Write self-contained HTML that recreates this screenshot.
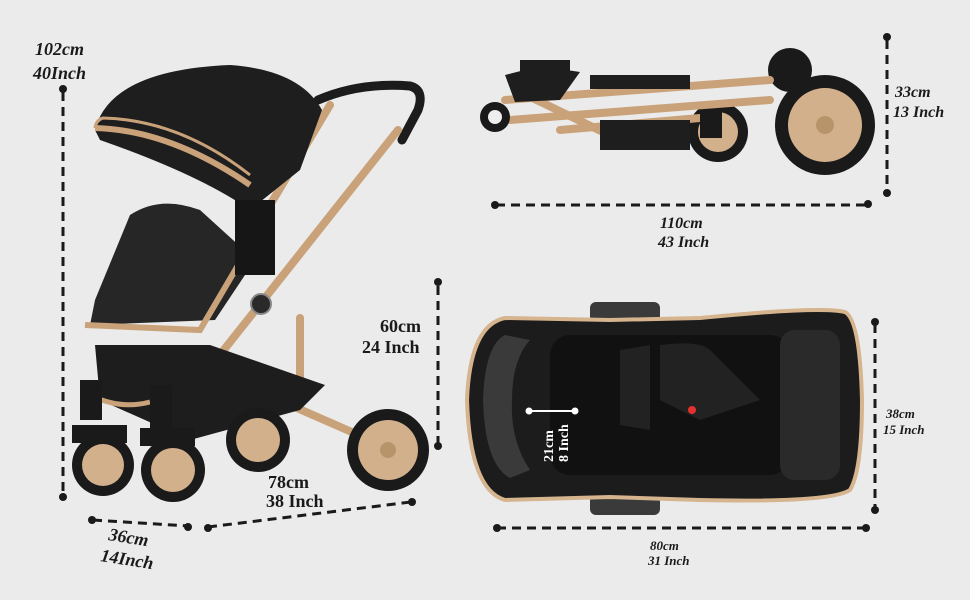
<!DOCTYPE html>
<html><head><style>
html,body{margin:0;padding:0;background:#ebebeb;}
svg{display:block}
text{font-family:"Liberation Serif",serif;font-weight:bold;fill:#1a1a1a}
</style></head><body>
<svg width="970" height="600" viewBox="0 0 970 600">
<rect width="970" height="600" fill="#ebebeb"/>
<g stroke="#1a1a1a" stroke-width="3" stroke-dasharray="9,6" fill="none">
<line x1="63" y1="92" x2="63" y2="495"/>
<line x1="93" y1="520" x2="188" y2="526"/>
<line x1="208" y1="527" x2="411" y2="502"/>
<line x1="438" y1="286" x2="438" y2="444"/>
<line x1="496" y1="205" x2="866" y2="205"/>
<line x1="887" y1="40" x2="887" y2="192"/>
<line x1="497" y1="528" x2="866" y2="528"/>
<line x1="875" y1="324" x2="875" y2="508"/>
</g>
<g fill="#1a1a1a">
<circle cx="63" cy="89" r="4"/><circle cx="63" cy="497" r="4"/>
<circle cx="92" cy="520" r="4"/><circle cx="188" cy="527" r="4"/>
<circle cx="208" cy="528" r="4"/><circle cx="412" cy="502" r="4"/>
<circle cx="438" cy="282" r="4"/><circle cx="438" cy="446" r="4"/>
<circle cx="495" cy="205" r="4"/><circle cx="868" cy="204" r="4"/>
<circle cx="887" cy="37" r="4"/><circle cx="887" cy="193" r="4"/>
<circle cx="497" cy="528" r="4"/><circle cx="866" cy="528" r="4"/>
<circle cx="875" cy="322" r="4"/><circle cx="875" cy="510" r="4"/>
</g>

<!-- left stroller -->
<g>
<!-- handle -->
<path d="M318 100 Q360 82 410 86 Q425 90 418 110 L402 140" stroke="#1c1c1c" stroke-width="9" fill="none" stroke-linecap="round"/>
<!-- frame -->
<g stroke="#c9a27a" stroke-width="8" fill="none" stroke-linecap="round">
<line x1="398" y1="130" x2="200" y2="380"/>
<line x1="300" y1="318" x2="300" y2="395"/>
<line x1="210" y1="370" x2="370" y2="440"/>
<line x1="220" y1="372" x2="240" y2="400"/>
<line x1="330" y1="105" x2="210" y2="305"/>
</g>
<!-- canopy -->
<path d="M95 130 Q110 70 230 65 Q300 70 322 110 L300 170 L250 210 Q200 175 100 140 Z" fill="#1e1e1e"/>
<path d="M95 128 Q170 130 250 185" stroke="#c9a27a" stroke-width="6" fill="none"/>
<path d="M95 128 Q96 120 103 118 Q180 120 250 175" stroke="#c9a27a" stroke-width="3" fill="none"/>
<!-- seat -->
<path d="M130 215 Q160 195 200 210 L255 260 L215 320 L90 325 L95 300 Z" fill="#262626"/>
<path d="M85 325 L200 330 L240 262" stroke="#c9a27a" stroke-width="6" fill="none"/>
<rect x="235" y="200" width="40" height="75" fill="#161616"/>
<circle cx="261" cy="304" r="10" fill="#2a2a2a" stroke="#888" stroke-width="2"/>
<!-- basket -->
<path d="M95 345 L210 345 L325 385 L300 410 L190 440 L100 400 Z" fill="#1d1d1d"/>
<path d="M90 395 Q120 410 150 402" stroke="#c9a27a" stroke-width="5" fill="none"/>
<rect x="80" y="380" width="22" height="40" fill="#1a1a1a"/>
<rect x="150" y="385" width="22" height="45" fill="#1a1a1a"/>
<!-- wheels -->
<g>
<circle cx="258" cy="440" r="32" fill="#1a1a1a"/><circle cx="258" cy="440" r="22" fill="#d3b08c"/>
<circle cx="388" cy="450" r="41" fill="#1a1a1a"/><circle cx="388" cy="450" r="30" fill="#d3b08c"/><circle cx="388" cy="450" r="8" fill="#b8946a"/>
<circle cx="103" cy="465" r="31" fill="#1a1a1a"/><circle cx="103" cy="465" r="21" fill="#d3b08c"/>
<circle cx="173" cy="470" r="32" fill="#1a1a1a"/><circle cx="173" cy="470" r="22" fill="#d3b08c"/>
<rect x="72" y="425" width="55" height="18" fill="#1a1a1a"/>
<rect x="140" y="428" width="55" height="18" fill="#1a1a1a"/>
</g>
</g>

<!-- folded stroller top right -->
<g>
<circle cx="825" cy="125" r="50" fill="#1a1a1a"/><circle cx="825" cy="125" r="37" fill="#d3b08c"/><circle cx="825" cy="125" r="9" fill="#b8946a"/>
<circle cx="790" cy="70" r="22" fill="#1a1a1a"/>
<circle cx="718" cy="132" r="30" fill="#1a1a1a"/><circle cx="718" cy="132" r="20" fill="#d3b08c"/>
<g stroke="#c9a27a" stroke-width="8" fill="none" stroke-linecap="round">
<line x1="505" y1="100" x2="770" y2="80"/>
<line x1="510" y1="120" x2="770" y2="100"/>
<line x1="560" y1="130" x2="700" y2="118"/>
<line x1="520" y1="92" x2="630" y2="145"/>
</g>
<path d="M505 75 L540 66 L580 72 L560 100 L515 102 Z" fill="#1e1e1e"/>
<rect x="520" y="60" width="50" height="20" fill="#1e1e1e"/>
<rect x="590" y="75" width="100" height="14" fill="#1e1e1e"/>
<rect x="600" y="120" width="90" height="30" fill="#1e1e1e"/>
<circle cx="495" cy="117" r="15" fill="#1a1a1a"/><circle cx="495" cy="117" r="7" fill="#eee"/>
<rect x="700" y="110" width="22" height="28" fill="#1a1a1a"/>
</g>

<!-- bassinet bottom right -->
<g>
<rect x="590" y="302" width="70" height="20" rx="6" fill="#3a3a3a"/>
<rect x="590" y="495" width="70" height="20" rx="6" fill="#3a3a3a"/>
<path d="M505 318 Q470 325 467 400 Q470 490 505 500 L610 497 L700 500 Q830 503 850 490 Q862 470 862 400 Q860 320 845 312 Q820 306 700 318 L610 320 Z" fill="#1c1c1c" stroke="#d6b48e" stroke-width="4"/>
<path d="M505 335 Q485 345 483 400 Q485 465 510 478 L530 470 Q510 440 512 400 Q512 360 530 340 Z" fill="#3a3a3a"/>
<rect x="550" y="335" width="240" height="140" rx="20" fill="#111"/>
<rect x="780" y="330" width="60" height="150" rx="15" fill="#2a2a2a"/>
<path d="M620 350 L650 345 L650 430 L620 425 Z M660 345 Q700 340 710 350 L760 400 L700 420 L660 400 Z" fill="#222"/>
<circle cx="692" cy="410" r="4" fill="#e53030"/>
<line x1="529" y1="411" x2="575" y2="411" stroke="#fff" stroke-width="2"/>
<circle cx="529" cy="411" r="3.5" fill="#fff"/><circle cx="575" cy="411" r="3.5" fill="#fff"/>
<text transform="translate(553,462) rotate(-90)" font-size="14" style="fill:#fff">21cm</text>
<text transform="translate(568,462) rotate(-90)" font-size="14" style="fill:#fff">8 Inch</text>
</g>

<!-- labels -->
<text x="35" y="55" font-size="18" font-style="italic">102cm</text>
<text x="33" y="79" font-size="18" font-style="italic">40Inch</text>
<text x="380" y="332" font-size="18">60cm</text>
<text x="362" y="353" font-size="18">24 Inch</text>
<text x="268" y="488" font-size="18">78cm</text>
<text x="266" y="507" font-size="18">38 Inch</text>
<text transform="translate(108,540) rotate(9)" font-size="18" font-style="italic">36cm</text>
<text transform="translate(100,561) rotate(9)" font-size="18" font-style="italic">14Inch</text>
<text x="660" y="228" font-size="16" font-style="italic">110cm</text>
<text x="658" y="247" font-size="16" font-style="italic">43 Inch</text>
<text x="895" y="97" font-size="16" font-style="italic">33cm</text>
<text x="893" y="117" font-size="16" font-style="italic">13 Inch</text>
<text x="650" y="550" font-size="13" font-style="italic">80cm</text>
<text x="648" y="565" font-size="13" font-style="italic">31 Inch</text>
<text x="886" y="418" font-size="13" font-style="italic">38cm</text>
<text x="883" y="434" font-size="13" font-style="italic">15 Inch</text>
</svg>
</body></html>
